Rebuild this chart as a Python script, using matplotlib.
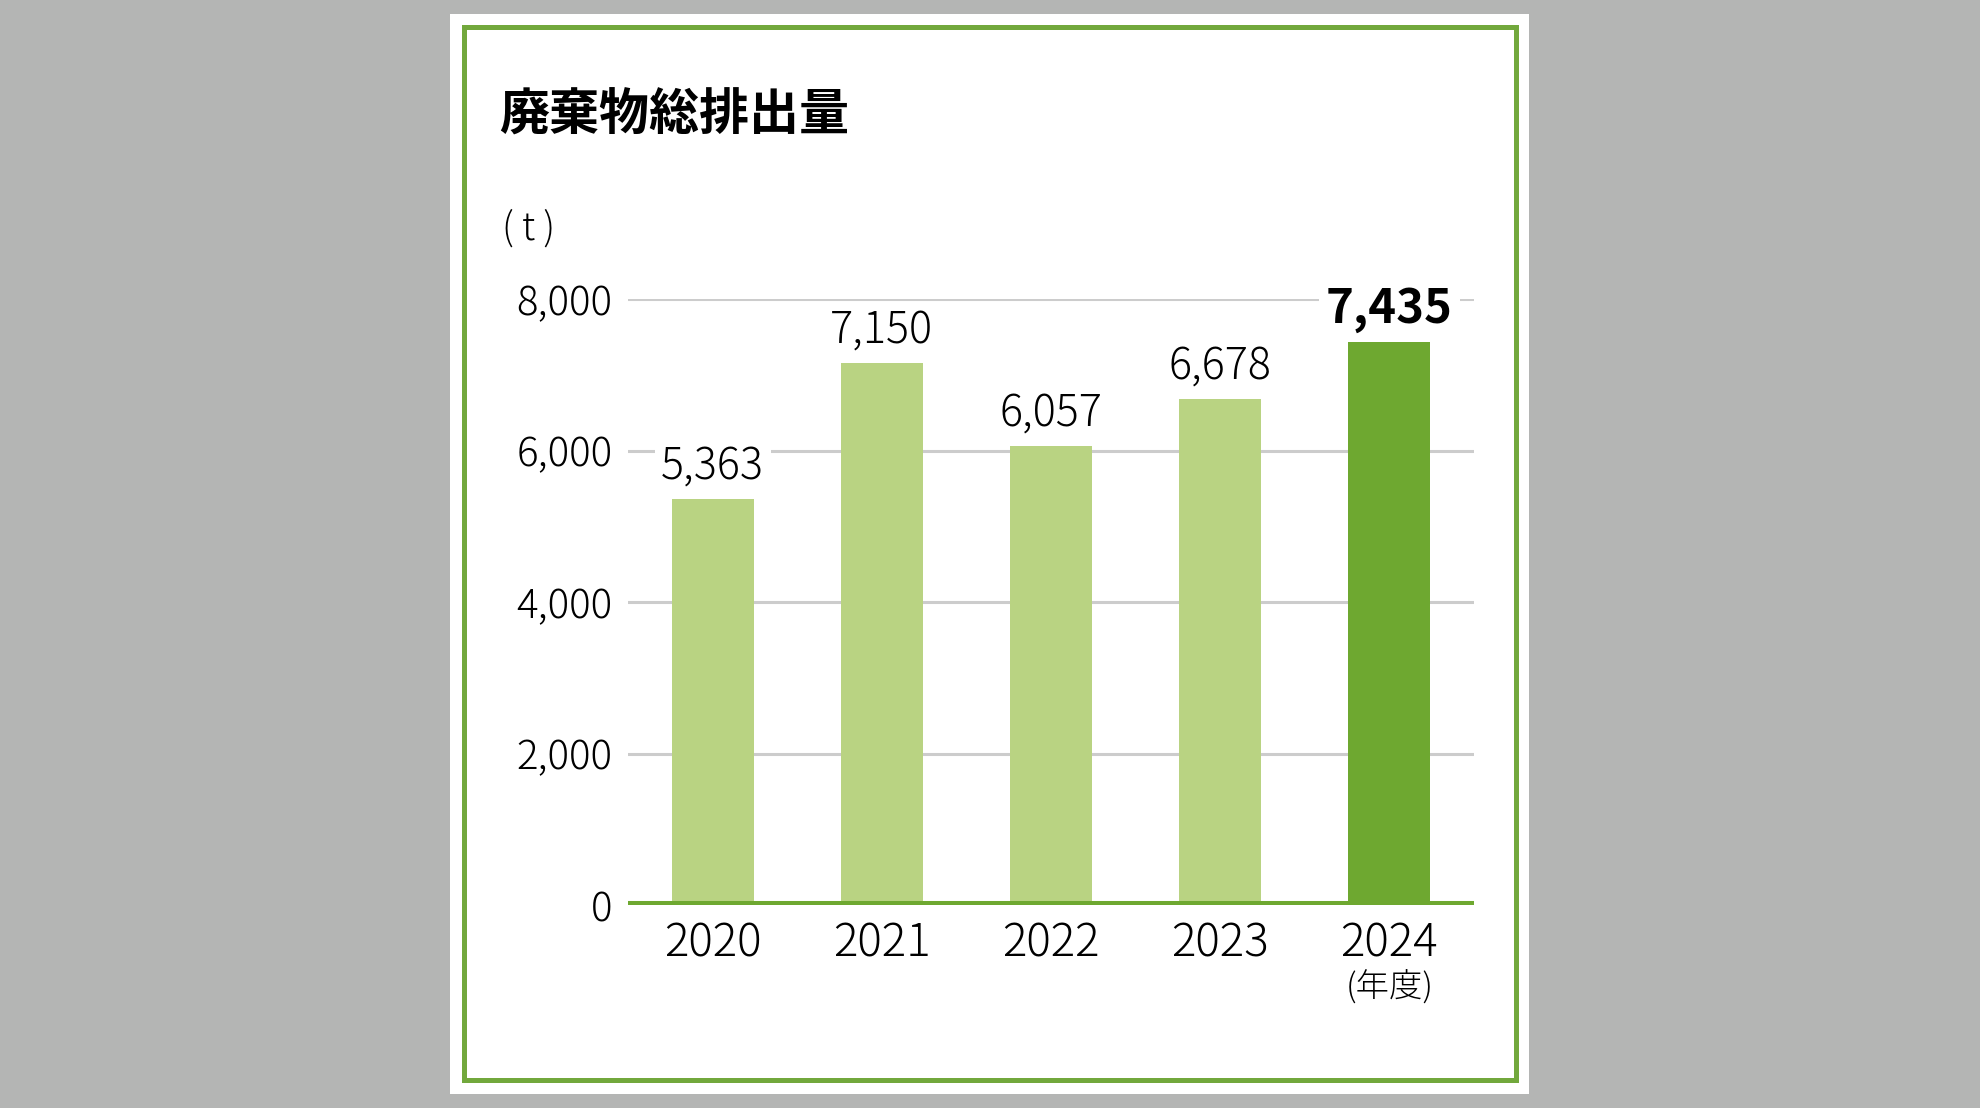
import matplotlib
matplotlib.use("Agg")
import matplotlib.pyplot as plt
from matplotlib.patches import Rectangle

plt.rcParams['font.family'] = ['Noto Sans CJK JP', 'DejaVu Sans']

# data
years = ['2020', '2021', '2022', '2023', '2024']
waste_t = [5363, 7150, 6057, 6678, 7435]
title = '廃棄物総排出量'
unit_label = '( t )'
year_unit = '(年度)'
y_ticks = [0, 2000, 4000, 6000, 8000]

light_green = '#b9d382'
dark_green = '#6ea830'
border_green = '#72a83c'
grid_gray = '#cccccc'

W, H = 1980, 1108
fig = plt.figure(figsize=(W / 100, H / 100), dpi=100)
fig.patch.set_facecolor('#b4b5b4')


def px(x, y):
    # pixel (from top-left) -> figure fraction
    return x / W, 1 - y / H


# white card and green frame
fig.patches.append(Rectangle(px(450, 1094), 1079 / W, 1080 / H, transform=fig.transFigure,
                             facecolor='white', edgecolor='none', zorder=0))
fig.patches.append(Rectangle(px(464, 1080), 1052 / W, 1053 / H, transform=fig.transFigure,
                             facecolor='none', edgecolor=border_green, lw=3.6, zorder=1))

fig.text(*px(499, 116), title, fontsize=36, fontweight='bold', ha='left', va='center')
fig.text(*px(502, 229), unit_label, fontsize=27, fontweight='light', ha='left', va='center')

left, right, top, bottom = 628, 1474, 299, 905
ax = fig.add_axes([left / W, 1 - bottom / H, (right - left) / W, (bottom - top) / H])
ax.set_zorder(5)
ax.set_facecolor('none')

x = list(range(len(years)))
colors = [light_green] * (len(years) - 1) + [dark_green]
ax.bar(x, waste_t, width=0.485, color=colors, zorder=2)

ax.set_xlim(-0.5, len(years) - 0.5)
ax.set_ylim(0, 8000)
for t in y_ticks[1:]:
    ax.axhline(t, color=grid_gray, lw=2.2, zorder=1)
ax.axhline(0, color=dark_green, lw=6.5, zorder=3)

for s in ax.spines.values():
    s.set_visible(False)
ax.set_yticks(y_ticks)
ax.set_yticklabels([f'{v:,}' for v in y_ticks], fontsize=29, fontweight='light')
ax.set_xticks(x)
ax.set_xticklabels(years, fontsize=33, fontweight='light')
ax.tick_params(axis='y', length=0, pad=11)
ax.tick_params(axis='x', length=0, pad=11)

for i, v in enumerate(waste_t):
    last = i == len(waste_t) - 1
    ax.annotate(f'{v:,}', (i, v), xytext=(0, 14), textcoords='offset points',
                ha='center', va='baseline', fontsize=34 if last else 31,
                fontweight='bold' if last else 'light', zorder=4, annotation_clip=False,
                bbox=dict(boxstyle='square,pad=0.15', fc='white', ec='none'))

ax.annotate(year_unit, (len(years) - 1, 0), xytext=(0, -60), textcoords='offset points',
            ha='center', va='center', fontsize=24, fontweight='light', annotation_clip=False)

fig.savefig('out.png', dpi=100, facecolor=fig.get_facecolor())
